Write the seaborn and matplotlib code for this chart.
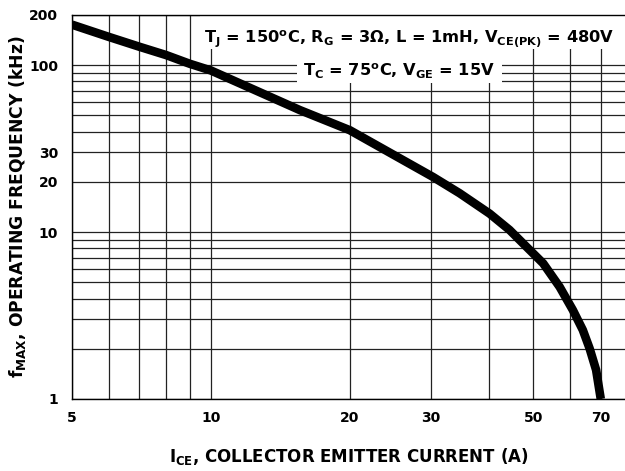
import numpy as np
import pandas as pd
import matplotlib
matplotlib.use("Agg")
import matplotlib.pyplot as plt
from matplotlib.patches import Rectangle
import seaborn as sns

# curve (I_CE in A, f_MAX in kHz)
I_CE = [5, 6, 7, 8, 9, 10, 15.6, 20, 23.2, 30.3, 34.6, 40.2, 44.4, 48.3, 52.5,
        57.0, 60.9, 64.0, 66.2, 68.4, 70]
F_MAX = [175, 148, 129, 115, 102, 93, 53.8, 40.8, 32.4, 21.4, 17.1, 12.9, 10.3, 8.17, 6.5,
         4.70, 3.41, 2.59, 2.01, 1.49, 1.0]

X_MAJOR = [5, 10, 20, 30, 50, 70]
X_MINOR = [6, 7, 8, 9, 40, 60]
Y_MAJOR = [1, 10, 20, 30, 100, 200]
Y_MINOR = [2, 3, 4, 5, 6, 7, 8, 9, 40, 50, 60, 70, 80, 90]

NOTE1 = r"$\mathbf{T_J}$ = 150$^\mathbf{o}$C, $\mathbf{R_G}$ = 3Ω, L = 1mH, $\mathbf{V_{CE(PK)}}$ = 480V"
NOTE2 = r"$\mathbf{T_C}$ = 75$^\mathbf{o}$C, $\mathbf{V_{GE}}$ = 15V"

sns.set_theme(style="white")
plt.rcParams["font.family"] = ["DejaVu Sans"]
plt.rcParams["font.weight"] = "bold"
plt.rcParams["axes.labelweight"] = "bold"
plt.rcParams["text.color"] = "black"
plt.rcParams["axes.labelcolor"] = "black"
plt.rcParams["mathtext.fontset"] = "custom"
plt.rcParams["mathtext.rm"] = "DejaVu Sans:bold"
plt.rcParams["mathtext.it"] = "DejaVu Sans:bold"
plt.rcParams["mathtext.bf"] = "DejaVu Sans:bold"

df = pd.DataFrame({"ice": I_CE, "fmax": F_MAX})

fig = plt.figure(figsize=(6.25, 4.71), dpi=100)
ax = fig.add_axes([0.1152, 0.1529, 0.8848, 0.8153])

sns.lineplot(data=df, x="ice", y="fmax", ax=ax, color="black", lw=6.2,
             solid_capstyle="butt", solid_joinstyle="round", zorder=4)

ax.set_xscale("log")
ax.set_yscale("log")
ax.set_xlim(5, 79)
ax.set_ylim(1, 200)

ax.set_xticks(X_MAJOR)
ax.set_xticklabels([str(v) for v in X_MAJOR])
ax.set_xticks(X_MINOR, minor=True)
ax.set_yticks(Y_MAJOR)
ax.set_yticklabels([str(v) for v in Y_MAJOR])
ax.set_yticks(Y_MINOR, minor=True)
ax.tick_params(which="both", length=0, labelsize=10, colors="black")
ax.tick_params(axis="x", pad=9)
ax.tick_params(axis="y", pad=10)
ax.set_xticklabels([], minor=True)
ax.set_yticklabels([], minor=True)

ax.grid(True, which="both", color="#222222", lw=0.9)
ax.set_axisbelow(True)
for s in ["left", "bottom", "top"]:
    ax.spines[s].set_color("black")
    ax.spines[s].set_linewidth(1.0)
ax.spines["right"].set_visible(False)

# white blocks behind the condition notes
ax.add_patch(Rectangle((0.2315, 0.9115), 0.7685, 0.0885, transform=ax.transAxes,
                       facecolor="white", edgecolor="none", zorder=2))
ax.add_patch(Rectangle((0.4069, 0.8229), 0.3707, 0.0886, transform=ax.transAxes,
                       facecolor="white", edgecolor="none", zorder=2))
ax.text(0.239, 0.937, NOTE1, transform=ax.transAxes, fontsize=11.7, ha="left",
        va="center", zorder=3)
ax.text(0.418, 0.852, NOTE2, transform=ax.transAxes, fontsize=11.7, ha="left",
        va="center", zorder=3)

ax.set_xlabel(r"$\mathbf{I_{CE}}$, COLLECTOR EMITTER CURRENT (A)", fontsize=12,
              labelpad=15)
ax.set_ylabel(r"$\mathbf{f_{MAX}}$, OPERATING FREQUENCY (kHz)", fontsize=12.3,
              labelpad=1)

fig.savefig("out.png", dpi=100)
